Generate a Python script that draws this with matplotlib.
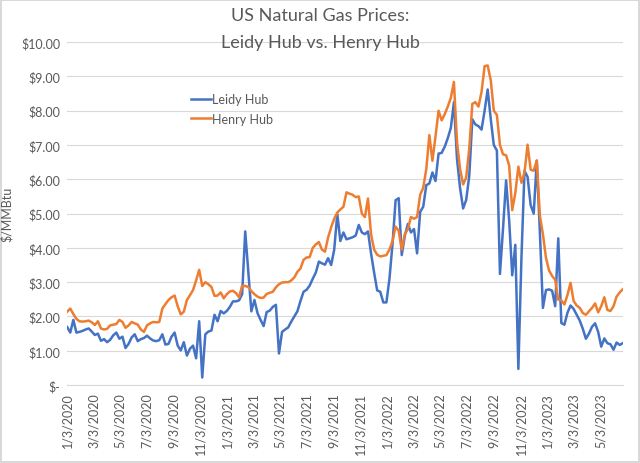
import matplotlib.pyplot as plt
import pandas as pd

plt.rcParams['font.family'] = ['Lato', 'DejaVu Sans']

START = "2020-01-03"

# weekly prices, $/MMBtu
leidy = [
    1.69, 1.53, 1.90, 1.53, 1.55, 1.58, 1.62, 1.65, 1.56, 1.46,
    1.50, 1.29, 1.34, 1.25, 1.32, 1.45, 1.53, 1.35, 1.41, 1.08,
    1.20, 1.39, 1.48, 1.28, 1.34, 1.37, 1.44, 1.36, 1.30, 1.28,
    1.31, 1.48, 1.18, 1.20, 1.41, 1.53, 1.15, 1.01, 1.25, 0.86,
    1.06, 1.15, 0.78, 1.86, 0.22, 1.48, 1.56, 1.59, 2.05, 1.86,
    2.16, 2.09, 2.16, 2.28, 2.44, 2.44, 2.47, 2.65, 4.48, 3.30,
    2.15, 2.48, 2.10, 1.90, 1.72, 2.13, 2.17, 2.28, 2.34, 0.92,
    1.55, 1.62, 1.68, 1.85, 2.00, 2.15, 2.45, 2.72, 2.78, 2.90,
    3.10, 3.28, 3.60, 3.55, 3.51, 3.70, 3.50, 3.95, 4.99, 4.20,
    4.45, 4.25, 4.28, 4.31, 4.36, 4.67, 4.45, 4.40, 4.48, 3.84,
    3.28, 2.76, 2.72, 2.41, 2.41, 3.10, 4.12, 5.39, 5.45, 3.79,
    4.35, 4.70, 4.45, 4.55, 3.84, 5.05, 5.20, 5.83, 5.88, 6.20,
    5.95, 6.75, 6.77, 6.95, 7.20, 7.50, 8.25, 6.60, 5.75, 5.15,
    5.40, 6.10, 7.75, 7.60, 7.55, 7.45, 8.00, 8.62, 7.76, 7.00,
    6.84, 3.24, 4.56, 5.97, 4.80, 3.20, 4.09, 0.47, 3.71, 6.25,
    6.07, 5.25, 5.00, 6.54, 4.47, 2.25, 2.77, 2.79, 2.75, 2.30,
    4.28, 1.81, 1.76, 2.11, 2.32, 2.22, 2.05, 1.88, 1.64, 1.35,
    1.50, 1.70, 1.80, 1.55, 1.12, 1.36, 1.22, 1.19, 1.03, 1.24,
    1.17, 1.22,
]

henry = [
    2.14, 2.23, 2.07, 1.93, 1.86, 1.85, 1.86, 1.88, 1.83, 1.75,
    1.86, 1.65, 1.62, 1.64, 1.74, 1.76, 1.78, 1.90, 1.84, 1.67,
    1.74, 1.84, 1.80, 1.76, 1.62, 1.55, 1.74, 1.80, 1.84, 1.83,
    1.84, 2.23, 2.36, 2.48, 2.56, 2.61, 2.30, 2.06, 2.14, 2.48,
    2.62, 2.77, 3.05, 3.36, 2.89, 3.00, 2.94, 2.86, 2.60, 2.61,
    2.70, 2.53, 2.65, 2.73, 2.75, 2.68, 2.56, 2.90, 2.89, 2.86,
    2.74, 2.65, 2.58, 2.54, 2.55, 2.66, 2.69, 2.72, 2.85, 2.94,
    2.99, 3.00, 3.00, 3.05, 3.14, 3.30, 3.40, 3.65, 3.72, 3.73,
    4.00, 4.10, 4.17, 3.95, 3.89, 4.30, 4.60, 4.85, 5.03, 5.12,
    5.20, 5.62, 5.58, 5.55, 5.48, 5.50, 5.00, 4.90, 5.44, 4.40,
    3.95, 3.80, 3.75, 3.77, 3.79, 3.95, 4.20, 4.62, 4.50, 3.95,
    4.40, 4.55, 4.90, 4.85, 4.90, 5.55, 5.75, 6.30, 7.29, 6.54,
    7.25, 8.00, 7.72, 7.90, 8.12, 8.38, 8.84, 7.10, 6.30, 5.85,
    6.05, 6.90, 8.20, 8.25, 8.12, 8.55, 9.30, 9.32, 8.89, 8.00,
    7.88, 7.00, 6.73, 6.70, 6.40, 5.10, 5.60, 6.37, 5.90, 6.20,
    7.01, 6.28, 6.25, 6.55, 4.94, 4.40, 3.71, 3.34, 3.18, 3.07,
    2.49, 2.47, 2.35, 2.63, 2.98, 2.45, 2.32, 2.25, 2.10, 2.05,
    2.15, 2.25, 2.38, 2.12, 2.30, 2.56, 2.19, 2.16, 2.30, 2.58,
    2.70, 2.79,
]

y_ticks = [0, 1, 2, 3, 4, 5, 6, 7, 8, 9, 10]

GRAY_TEXT = "#595959"
GRID = "#D9D9D9"


def main() -> None:
    dates = pd.date_range(START, periods=len(leidy), freq="7D")
    # ticks on the 3rd of every other month, Jan 2020 .. May 2023
    tick_dates = pd.date_range("2020-01-01", "2023-05-01", freq="2MS") + pd.Timedelta(days=2)
    tick_labels = [f"{d.month}/{d.day}/{d.year}" for d in tick_dates]

    fig = plt.figure(figsize=(6.4, 4.64), dpi=100)
    fig.patch.set_edgecolor(GRID)
    fig.patch.set_linewidth(1.5)
    ax = fig.add_axes([0.105, 0.168, 0.868, 0.739])

    ax.plot(dates, leidy, color="#4472C4", linewidth=1.8, label="Leidy Hub")
    ax.plot(dates, henry, color="#ED7D31", linewidth=1.8, label="Henry Hub")

    ax.set_xlim(dates[0], dates[-1])
    ax.set_ylim(0, 10)
    ax.set_yticks(y_ticks)
    ax.set_yticklabels(["$-"] + [f"${v:.2f}" for v in y_ticks[1:]])
    ax.set_xticks(tick_dates)
    ax.set_xticklabels(tick_labels, rotation=90)
    ax.tick_params(axis="both", length=0, labelsize=9, colors=GRAY_TEXT)
    ax.tick_params(axis="y", pad=5)
    ax.tick_params(axis="x", pad=5)
    ax.grid(True, axis="y", color=GRID, linewidth=0.8)
    ax.set_axisbelow(True)
    for side in ("top", "right", "left"):
        ax.spines[side].set_visible(False)
    ax.spines["bottom"].set_color(GRID)

    ax.set_ylabel("$/MMBtu", fontsize=9, color=GRAY_TEXT)
    ax.yaxis.set_label_coords(-0.098, 0.5)
    fig.text(0.5, 0.965, "US Natural Gas Prices:", ha="center", va="center",
             fontsize=13, color=GRAY_TEXT)
    fig.text(0.5, 0.907, "Leidy Hub vs. Henry Hub", ha="center", va="center",
             fontsize=13, color=GRAY_TEXT)

    ax.legend(loc="upper left", bbox_to_anchor=(185 / 640, 1 - 88 / 464),
              bbox_transform=fig.transFigure, frameon=False, fontsize=9,
              handlelength=1.6, handletextpad=0.1, labelspacing=0.6,
              labelcolor=GRAY_TEXT, borderpad=0)

    fig.savefig("out.png", dpi=100)
    plt.close(fig)


if __name__ == "__main__":
    main()
